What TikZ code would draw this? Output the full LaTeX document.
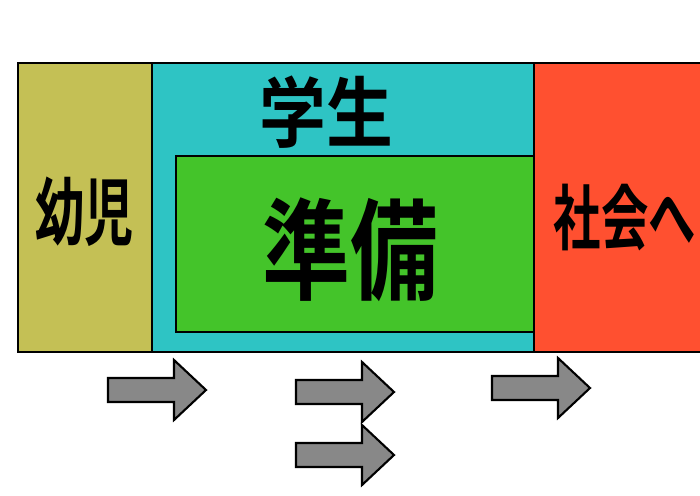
\documentclass[tikz,border=0pt]{standalone}
\usepackage{fontspec}
\usepackage{graphicx}
\newfontfamily\jp{Noto Sans CJK JP Bold}
\definecolor{infant}{HTML}{C4C055}
\definecolor{student}{HTML}{2EC4C4}
\definecolor{prep}{HTML}{44C42A}
\definecolor{society}{HTML}{FF5030}
\definecolor{arrowgray}{HTML}{888888}
\tikzset{
  stage/.style={draw=black, line width=1.5pt},
  label/.style={font=\jp, inner sep=0pt},
  blockarrow/.style={draw=black, fill=arrowgray, line width=1.2pt, line join=miter}
}
\newcommand{\tall}[3]{\fontsize{#1}{#1}\selectfont\scalebox{1}[#2]{#3}}
\newcommand{\stagearrow}[2]{%
  \draw[blockarrow] (#1,#2+18) -- ++(66,0) -- ++(0,-18) -- ++(32,30)
    -- ++(-32,30) -- ++(0,-18) -- ++(-66,0) -- cycle;}
\begin{document}
\begin{tikzpicture}[x=0.02cm, y=-0.02cm]
  \useasboundingbox (0,0) rectangle (700,495);
  % stages
  \draw[stage, fill=infant] (18,63) rectangle (152,352);
  \draw[stage, fill=student] (152,63) rectangle (534,352);
  \draw[stage, fill=prep] (176,156) rectangle (534,332);
  \draw[stage, fill=society] (534,63) rectangle (712,352);
  % labels
  \node[label] (infant) at (85,212) {\tall{28}{1.5}{幼児}};
  \node[label] (student) at (326,112) {\tall{38}{1.15}{学生}};
  \node[label] (prep) at (350,250) {\tall{50}{1.25}{準備}};
  \node[label] (society) at (625,218) {\tall{27}{1.5}{社会へ}};
  % arrows
  \stagearrow{108}{360}
  \stagearrow{296}{362}
  \stagearrow{296}{425}
  \stagearrow{492}{358}
\end{tikzpicture}
\end{document}
